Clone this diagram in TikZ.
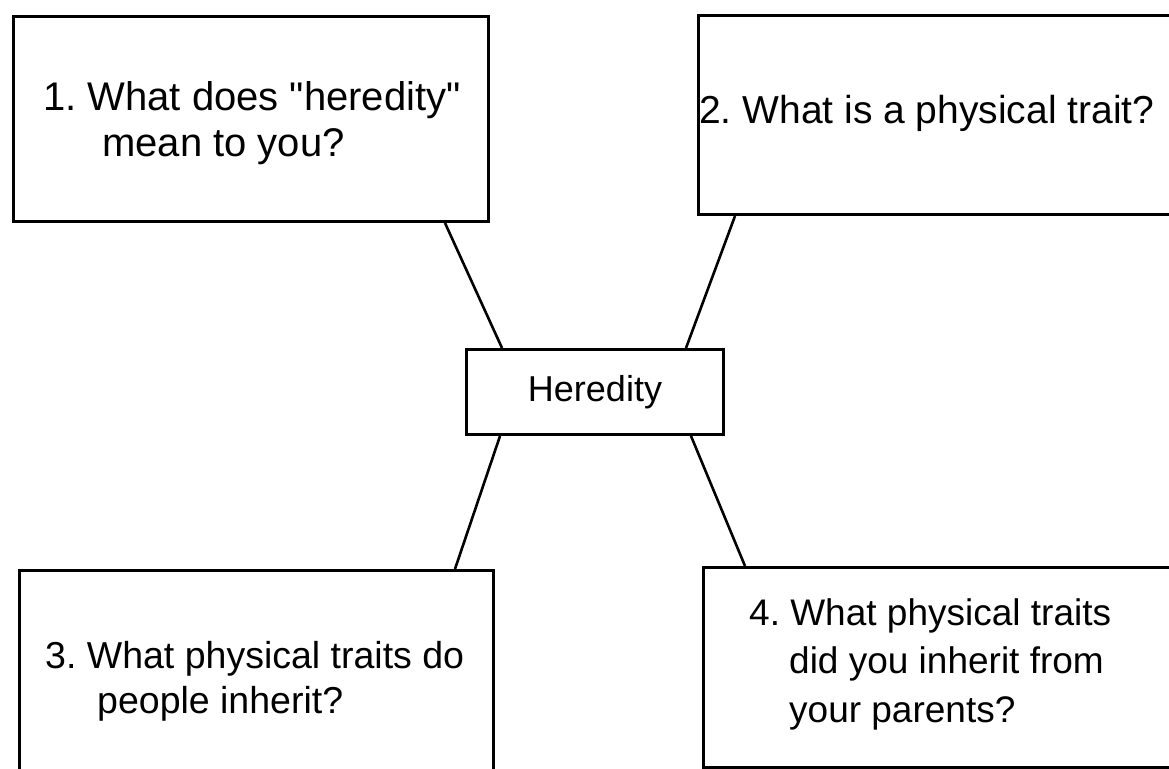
\documentclass[tikz,border=0pt]{standalone}
\usepackage{fontspec}
\setmainfont{Liberation Sans}
\usepackage{tikz}
\usetikzlibrary{
    calc,
    positioning
}

\tikzset{
    qbox/.style={draw, line width=3pt, rectangle, inner sep=0pt, anchor=north west},
    qtext/.style={inner sep=0pt, anchor=base west},
    link/.style={line width=2.6pt}
}
\newcommand{\qlines}[1]{\begin{tabular}[t]{@{}l@{}}#1\end{tabular}}
\frenchspacing

\begin{document}
\begin{tikzpicture}[x=1pt, y=-1pt]
                    \useasboundingbox (0, 0) rectangle (1169, 768);
                    \fill[white] (0, 0) rectangle (1169, 768);
                    \clip (0, 0) rectangle (1169, 768);
                    % question boxes
                    \node[qbox, minimum width=475pt, minimum height=205pt] (q1) at (12, 15) {};
                    \node[qbox, minimum width=500pt, minimum height=199pt] (q2) at (697, 14) {};
                    \node[qbox, minimum width=474pt, minimum height=250pt] (q3) at (18, 569) {};
                    \node[qbox, minimum width=500pt, minimum height=200pt] (q4) at (702, 566) {};
                    \node[qbox, minimum width=257pt, minimum height=85pt,
                          font=\fontsize{36}{40}\selectfont] (hub) at (465, 348) {Heredity};
                    % texts
                    \node[qtext, font=\fontsize{40}{47}\selectfont] (q1text) at (43, 110)
                        {\qlines{1. What does \textquotedbl heredity\textquotedbl\\\hspace*{59pt}mean to you?}};
                    \node[qtext, font=\fontsize{39}{47}\selectfont] (q2text) at (699, 123)
                        {2. What is a physical trait?};
                    \node[qtext, font=\fontsize{37.5}{45}\selectfont] (q3text) at (45, 668)
                        {\qlines{3. What physical traits do\\\hspace*{52pt}people inherit?}};
                    \node[qtext, font=\fontsize{37}{48.5}\selectfont] (q4text) at (749, 625)
                        {\qlines{4. What physical traits\\\hspace*{40pt}did you inherit from\\\hspace*{40pt}your parents?}};
                    % connector ends
                    \coordinate (q1foot) at ([xshift=-45pt]q1.south east);
                    \coordinate (q2foot) at ([xshift=38pt]q2.south west);
                    \coordinate (q3head) at ([xshift=-40pt]q3.north east);
                    \coordinate (q4head) at ([xshift=43pt]q4.north west);
                    \coordinate (hubnw) at ([xshift=37pt]hub.north west);
                    \coordinate (hubne) at ([xshift=-39pt]hub.north east);
                    \coordinate (hubsw) at ([xshift=35pt]hub.south west);
                    \coordinate (hubse) at ([xshift=-34pt]hub.south east);
                    \draw[link]
                    (q1foot) -- (hubnw)
                    (q2foot) -- (hubne)
                    (hubsw) -- (q3head)
                    (hubse) -- (q4head);
                \end{tikzpicture}
\end{document}
